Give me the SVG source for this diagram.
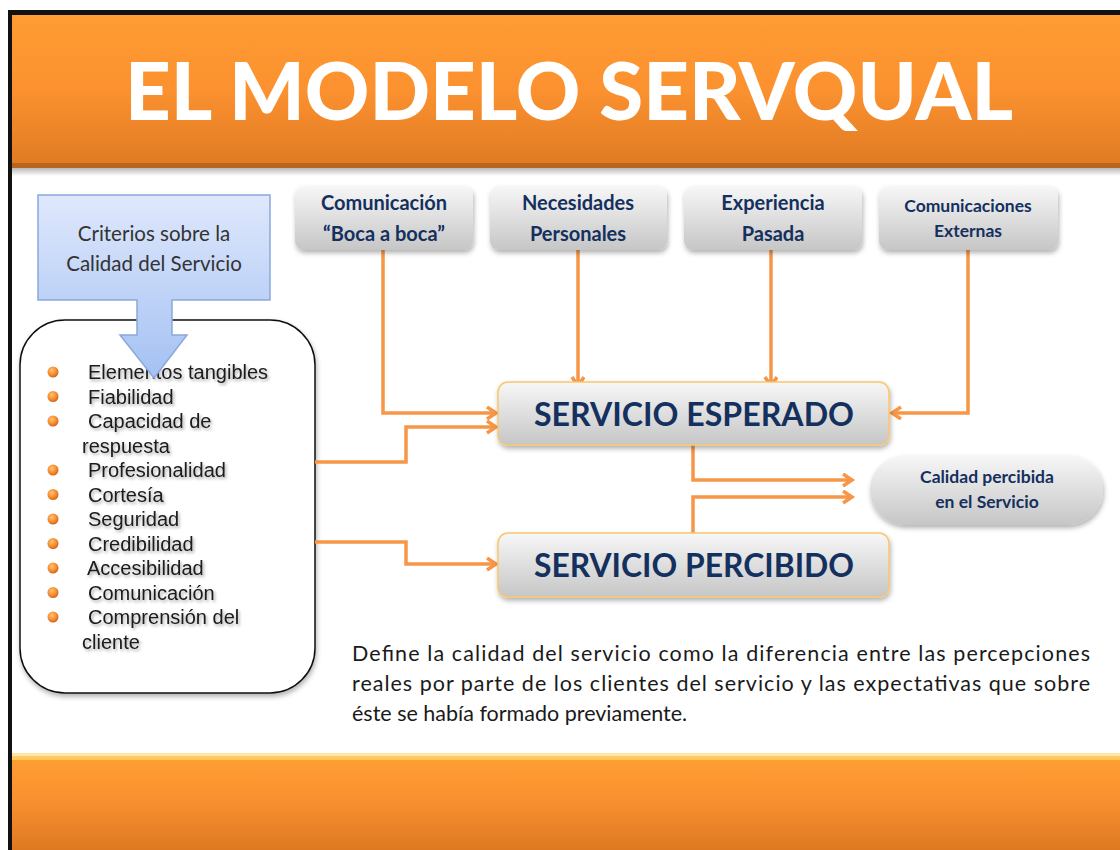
<svg xmlns="http://www.w3.org/2000/svg" width="1120" height="850" viewBox="0 0 1120 850">
<style>
.cal{font-family:Lato,"Open Sans","Liberation Sans",sans-serif}
.navy{fill:#14305e;font-weight:bold}
.li{font-family:"Liberation Sans",Arial,sans-serif;font-size:20px;fill:#1a1a1a}
.conn{fill:none;stroke:#f79646;stroke-width:3.5;stroke-linejoin:miter}
.para{font-family:Lato,"Open Sans","Liberation Sans",sans-serif;font-size:21.5px;fill:#1a1a1a}
</style>
<defs>
<linearGradient id="gTop" x1="0" y1="0" x2="0" y2="1">
<stop offset="0" stop-color="#ff9c33"/><stop offset="0.5" stop-color="#fb912f"/><stop offset="1" stop-color="#e07b24"/>
</linearGradient>
<linearGradient id="gBot" x1="0" y1="0" x2="0" y2="1">
<stop offset="0" stop-color="#ffa033"/><stop offset="0.45" stop-color="#fb9130"/><stop offset="1" stop-color="#de7922"/>
</linearGradient>
<linearGradient id="gShade" x1="0" y1="0" x2="0" y2="1">
<stop offset="0" stop-color="#b9b9b9"/><stop offset="1" stop-color="#ffffff"/>
</linearGradient>
<linearGradient id="gBlue" x1="0" y1="0" x2="0" y2="1">
<stop offset="0" stop-color="#dfe8fc"/><stop offset="1" stop-color="#a4c1f3"/>
</linearGradient>
<linearGradient id="gGray" x1="0" y1="0" x2="0" y2="1">
<stop offset="0" stop-color="#f7f7f7"/><stop offset="1" stop-color="#c6c6c6"/>
</linearGradient>
<radialGradient id="gBul" cx="0.4" cy="0.35" r="0.7">
<stop offset="0" stop-color="#ffc27a"/><stop offset="0.6" stop-color="#f58a2a"/><stop offset="1" stop-color="#c8601a"/>
</radialGradient>
<filter id="sh" x="-10%" y="-10%" width="125%" height="140%">
<feDropShadow dx="1" dy="3" stdDeviation="2.5" flood-color="#000" flood-opacity="0.3"/>
</filter>
<filter id="tsh" x="-5%" y="-20%" width="115%" height="160%">
<feDropShadow dx="1.5" dy="2" stdDeviation="1.5" flood-color="#000" flood-opacity="0.35"/>
</filter>
<marker id="ah" markerUnits="userSpaceOnUse" markerWidth="14" markerHeight="16" refX="10" refY="7" orient="auto">
<path d="M1,1 L10,7 L1,13" fill="none" stroke="#f79646" stroke-width="3.5"/>
</marker>
</defs>

<rect x="0" y="0" width="1120" height="850" fill="#ffffff"/>
<!-- frame -->
<rect x="8" y="10" width="1112" height="5" fill="#111"/>
<rect x="8" y="10" width="4" height="840" fill="#111"/>

<!-- header -->
<g id="header">
<rect x="12" y="168" width="1108" height="8" fill="url(#gShade)"/>
<rect x="12" y="15" width="1108" height="150" fill="url(#gTop)"/>
<rect x="12" y="163" width="1108" height="5" fill="#b8661f"/>
<text x="569" y="120" text-anchor="middle" class="cal" font-size="80" font-weight="900" fill="#ffffff" textLength="888" lengthAdjust="spacingAndGlyphs">EL MODELO SERVQUAL</text>
</g>

<!-- footer -->
<g id="footer">
<rect x="12" y="753" width="1108" height="97" fill="url(#gBot)"/>
<rect x="12" y="753" width="1108" height="3" fill="#ffe6a8"/>
<rect x="12" y="756" width="1108" height="4" fill="#ffd36e" opacity="0.8"/>
</g>

<!-- list box -->
<g id="lista">
<rect x="20" y="320" width="295" height="373" rx="45" fill="#ffffff" stroke="#111" stroke-width="1.5" filter="url(#sh)"/>
<g fill="url(#gBul)">
<circle cx="53" cy="372" r="5.5"/><circle cx="53" cy="396.5" r="5.5"/><circle cx="53" cy="421" r="5.5"/>
<circle cx="53" cy="470" r="5.5"/><circle cx="53" cy="494.5" r="5.5"/><circle cx="53" cy="519" r="5.5"/>
<circle cx="53" cy="543.5" r="5.5"/><circle cx="53" cy="568" r="5.5"/><circle cx="53" cy="592.5" r="5.5"/>
<circle cx="53" cy="617" r="5.5"/>
</g>
<g class="li" filter="url(#tsh)">
<text x="88" y="379">Elementos tangibles</text>
<text x="88" y="403.5">Fiabilidad</text>
<text x="88" y="428">Capacidad de</text>
<text x="82" y="452.5">respuesta</text>
<text x="88" y="477">Profesionalidad</text>
<text x="88" y="501.5">Cortesía</text>
<text x="88" y="526">Seguridad</text>
<text x="88" y="550.5">Credibilidad</text>
<text x="87" y="575">Accesibilidad</text>
<text x="88" y="599.5">Comunicación</text>
<text x="88" y="624">Comprensión del</text>
<text x="82" y="648.5">cliente</text>
</g>
</g>

<!-- criterios callout -->
<g id="criterios">
<path d="M38,195 H270 V300 H172 V335 H187 L154,378 L120,335 H137 V300 H38 Z" fill="url(#gBlue)" stroke="#8aa8dc" stroke-width="1.5"/>
<text x="154" y="241" text-anchor="middle" class="cal" font-size="20.5" fill="#333">Criterios sobre la</text>
<text x="154" y="271" text-anchor="middle" class="cal" font-size="20.5" fill="#333">Calidad del Servicio</text>
</g>

<!-- connectors -->
<g id="connectors" class="conn">
<path class="conn" d="M383,250 V413 H496" marker-end="url(#ah)"/>
<path class="conn" d="M578,250 V386" marker-end="url(#ah)"/>
<path class="conn" d="M771,250 V386" marker-end="url(#ah)"/>
<path class="conn" d="M968,250 V413 H892" marker-end="url(#ah)"/>
<path class="conn" d="M315,462 H406 V427 H496" marker-end="url(#ah)"/>
<path class="conn" d="M315,542 H406 V564 H496" marker-end="url(#ah)"/>
<path class="conn" d="M693,445 V480 H852" marker-end="url(#ah)"/>
<path class="conn" d="M693,533 V497 H852" marker-end="url(#ah)"/>
</g>

<!-- top boxes -->
<g id="boca">
<rect x="295" y="186" width="178" height="64" rx="9" fill="url(#gGray)" filter="url(#sh)"/>
<text x="384" y="210" text-anchor="middle" class="cal navy" font-size="20">Comunicación</text>
<text x="384" y="241" text-anchor="middle" class="cal navy" font-size="20">“Boca a boca”</text>
</g>
<g id="necesidades">
<rect x="490" y="186" width="177" height="64" rx="9" fill="url(#gGray)" filter="url(#sh)"/>
<text x="578" y="210" text-anchor="middle" class="cal navy" font-size="20">Necesidades</text>
<text x="578" y="241" text-anchor="middle" class="cal navy" font-size="20">Personales</text>
</g>
<g id="experiencia">
<rect x="684" y="186" width="178" height="64" rx="9" fill="url(#gGray)" filter="url(#sh)"/>
<text x="773" y="210" text-anchor="middle" class="cal navy" font-size="20">Experiencia</text>
<text x="773" y="241" text-anchor="middle" class="cal navy" font-size="20">Pasada</text>
</g>
<g id="externas">
<rect x="879" y="186" width="179" height="64" rx="9" fill="url(#gGray)" filter="url(#sh)"/>
<text x="968" y="212" text-anchor="middle" class="cal navy" font-size="17.5">Comunicaciones</text>
<text x="968" y="237" text-anchor="middle" class="cal navy" font-size="17.5">Externas</text>
</g>

<!-- central boxes -->
<g id="esperado">
<rect x="498" y="382" width="391" height="63" rx="10" fill="url(#gGray)" stroke="#f9c66e" stroke-width="1.5" filter="url(#sh)"/>
<text x="694" y="426" text-anchor="middle" class="cal navy" font-size="33" textLength="320" lengthAdjust="spacingAndGlyphs">SERVICIO ESPERADO</text>
</g>
<g id="percibido">
<rect x="498" y="533" width="391" height="64" rx="10" fill="url(#gGray)" stroke="#f9c66e" stroke-width="1.5" filter="url(#sh)"/>
<text x="694" y="577" text-anchor="middle" class="cal navy" font-size="33" textLength="320" lengthAdjust="spacingAndGlyphs">SERVICIO PERCIBIDO</text>
</g>
<g id="calidad">
<rect x="870" y="455" width="233" height="70" rx="35" fill="url(#gGray)" filter="url(#sh)"/>
<text x="987" y="483" text-anchor="middle" class="cal navy" font-size="17.5">Calidad percibida</text>
<text x="987" y="508" text-anchor="middle" class="cal navy" font-size="17.5">en el Servicio</text>
</g>

<!-- paragraph -->
<g id="definicion" class="para">
<text x="352" y="661" textLength="738" lengthAdjust="spacing">Define la calidad del servicio como la diferencia entre las percepciones</text>
<text x="352" y="691" textLength="738" lengthAdjust="spacing">reales por parte de los clientes del servicio y las expectativas que sobre</text>
<text x="352" y="721">éste se había formado previamente.</text>
</g>
</svg>
